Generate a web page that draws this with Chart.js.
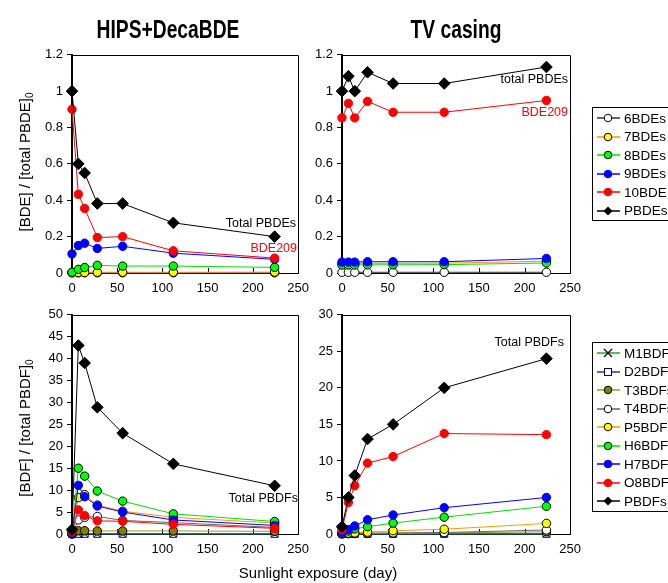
<!DOCTYPE html>
<html>
<head>
<meta charset="utf-8">
<script src="https://cdn.jsdelivr.net/npm/chart.js@4.4.1/dist/chart.umd.min.js"></script>
<style>
html,body{margin:0;padding:0;background:#fff;width:668px;height:583px;overflow:hidden}
body{position:relative;font-family:"Liberation Sans",Arial,sans-serif;color:#000}
canvas{position:absolute}
.title{position:absolute;top:13px;font-family:"Liberation Sans",Arial,sans-serif;font-weight:bold;font-size:26px;line-height:32px;white-space:nowrap;transform:translateX(-50%) scaleX(0.74)}
.ytitle{position:absolute;font-size:15px;white-space:nowrap;transform:translate(-50%,-50%) rotate(-90deg)}
.ytitle sub{font-size:10px;vertical-align:-3px}
.xtitle{position:absolute;font-size:15px;white-space:nowrap;transform:translateX(-50%)}
.note{position:absolute;font-size:12.5px;line-height:14px;white-space:nowrap}
.legend{position:absolute;border:1px solid #000;background:#fff;width:110px;box-sizing:border-box;padding-top:1px}
.legend .item{height:18.5px;display:flex;align-items:center;font-size:13.5px;white-space:nowrap}
.legend svg{margin-left:4px;margin-right:4px;flex:none}
</style>
</head>
<body>
<canvas id="cTL" width="317" height="265" style="left:0;top:43px"></canvas>
<canvas id="cTR" width="319" height="265" style="left:270px;top:43px"></canvas>
<canvas id="cBL" width="317" height="265" style="left:0;top:303px"></canvas>
<canvas id="cBR" width="319" height="265" style="left:270px;top:303px"></canvas>

<div class="title" style="left:168px">HIPS+DecaBDE</div>
<div class="title" style="left:456px">TV casing</div>
<div class="ytitle" style="left:25px;top:162px">[BDE] / [total PBDE]<sub>0</sub></div>
<div class="ytitle" style="left:25px;top:428px">[BDF] / [total PBDF]<sub>0</sub></div>
<div class="xtitle" style="left:318px;top:564px">Sunlight exposure (day)</div>

<div class="note" style="right:372px;top:216px">Total PBDEs</div>
<div class="note" style="right:371px;top:241px;color:#ff0000">BDE209</div>
<div class="note" style="right:100px;top:72px">total PBDEs</div>
<div class="note" style="right:100px;top:105px;color:#ff0000">BDE209</div>
<div class="note" style="right:370px;top:491px">Total PBDFs</div>
<div class="note" style="right:104px;top:335px">Total PBDFs</div>

<div id="legTop" class="legend" style="left:592px;top:107px"></div>
<div id="legBot" class="legend" style="left:592px;top:342px"></div>

<script>
// ---------- data ----------
const days = [0, 7, 14, 28, 56, 112, 224];

const bdeLabels = ['6BDEs', '7BDEs', '8BDEs', '9BDEs', '10BDE', 'PBDEs'];
const bdfLabels = ['M1BDFs', 'D2BDFs', 'T3BDFs', 'T4BDFs', 'P5BDFs', 'H6BDFs', 'H7BDFs', 'O8BDF', 'PBDFs'];

// HIPS+DecaBDE, PBDEs
const hips6BDE  = [0.001, 0.001, 0.001, 0.001, 0.001, 0.001, 0.001];
const hips7BDE  = [0.002, 0.003, 0.003, 0.004, 0.004, 0.004, 0.005];
const hips8BDE  = [0.004, 0.020, 0.030, 0.042, 0.038, 0.038, 0.031];
const hips9BDE  = [0.105, 0.151, 0.164, 0.135, 0.147, 0.109, 0.075];
const hips10BDE = [0.900, 0.433, 0.355, 0.195, 0.200, 0.122, 0.082];
const hipsPBDE  = [1.000, 0.600, 0.550, 0.382, 0.382, 0.276, 0.200];

// TV casing, PBDEs
const tv6BDE  = [0.004, 0.004, 0.004, 0.004, 0.004, 0.004, 0.004];
const tv7BDE  = [0.052, 0.052, 0.052, 0.053, 0.053, 0.054, 0.065];
const tv8BDE  = [0.044, 0.044, 0.044, 0.045, 0.045, 0.046, 0.055];
const tv9BDE  = [0.060, 0.060, 0.060, 0.062, 0.062, 0.062, 0.080];
const tv10BDE = [0.853, 0.933, 0.853, 0.944, 0.884, 0.884, 0.949];
const tvPBDE  = [1.000, 1.082, 1.000, 1.104, 1.042, 1.042, 1.133];

// HIPS+DecaBDE, PBDFs
const hipsM1 = [0.02, 0.02, 0.02, 0.02, 0.02, 0.02, 0.02];
const hipsD2 = [0.05, 0.05, 0.05, 0.05, 0.05, 0.05, 0.05];
const hipsT3 = [0.02, 0.75, 0.75, 0.70, 0.70, 0.70, 0.60];
const hipsT4 = [0.03, 3.2, 3.8, 4.0, 3.1, 2.6, 1.5];
const hipsP5 = [0.05, 8.3, 9.0, 6.6, 5.2, 3.8, 2.5];
const hipsH6 = [0.15, 15.0, 13.2, 9.8, 7.5, 4.6, 2.85];
const hipsH7 = [0.25, 11.1, 8.5, 6.4, 5.0, 3.2, 1.95];
const hipsO8 = [0.50, 5.5, 4.2, 3.0, 2.9, 2.2, 1.3];
const hipsPBDF = [1.0, 43.0, 39.0, 28.9, 23.0, 16.0, 11.0];

// TV casing, PBDFs
const tvM1 = [0.01, 0.01, 0.01, 0.01, 0.01, 0.01, 0.01];
const tvD2 = [0.03, 0.03, 0.03, 0.03, 0.03, 0.03, 0.03];
const tvT3 = [0.02, 0.05, 0.05, 0.08, 0.10, 0.15, 0.30];
const tvT4 = [0.03, 0.08, 0.10, 0.12, 0.15, 0.20, 0.55];
const tvP5 = [0.05, 0.12, 0.15, 0.25, 0.45, 0.65, 1.45];
const tvH6 = [0.15, 0.40, 0.70, 1.00, 1.50, 2.30, 3.80];
const tvH7 = [0.25, 0.60, 1.10, 1.95, 2.60, 3.60, 5.00];
const tvO8 = [0.60, 4.30, 6.60, 9.70, 10.60, 13.75, 13.60];
const tvPBDF = [1.0, 5.0, 8.0, 13.0, 15.0, 20.0, 24.0];

// ---------- styles ----------
const sWhite  = {line:'#333333', bg:'#ffffff', border:'#000000', shape:'circle'};
const sGray   = {line:'#666666', bg:'#ffffff', border:'#000000', shape:'circle'};
const sYellow = {line:'#ff9900', bg:'#ffff00', border:'#000000', shape:'circle'};
const sGreen  = {line:'#00dd00', bg:'#00ff00', border:'#000000', shape:'circle'};
const sBlue   = {line:'#0000ff', bg:'#0000ff', border:'#0000ff', shape:'circle'};
const sRed    = {line:'#ff0000', bg:'#ff0000', border:'#ff0000', shape:'circle'};
const sBlack  = {line:'#000000', bg:'#000000', border:'#000000', shape:'rectRot'};
const sCross  = {line:'#339933', bg:'rgba(0,0,0,0)', border:'#000033', shape:'crossRot'};
const sSquare = {line:'#333399', bg:'rgba(0,0,0,0)', border:'#000080', shape:'rect'};
const sOlive  = {line:'#999933', bg:'#808000', border:'#000000', shape:'circle'};

const bdeStyles = [sWhite, sYellow, sGreen, sBlue, sRed, sBlack];
const bdfStyles = [sCross, sSquare, sOlive, sGray, sYellow, sGreen, sBlue, sRed, sBlack];

Chart.defaults.font.family = '"Liberation Sans", Arial, sans-serif';
Chart.defaults.font.size = 13;
Chart.defaults.color = '#000';

function mkDataset(label, vals, st, idx, n) {
  let radius = 4.2;
  if (st.shape === 'rectRot') radius = 5.8;
  if (st.shape === 'rect') radius = 5;
  if (st.shape === 'crossRot') radius = 4.5;
  return {
    label: label,
    data: days.map((d, i) => ({x: d, y: vals[i]})),
    borderColor: st.line,
    borderWidth: 1,
    pointStyle: st.shape,
    pointRadius: radius,
    pointBackgroundColor: st.bg,
    pointBorderColor: st.border,
    pointBorderWidth: 1,
    tension: 0,
    fill: false,
    clip: false,
    order: n - idx
  };
}

const framePlugin = {
  id: 'frame',
  beforeDatasetsDraw(chart) {
    const ctx = chart.ctx, a = chart.chartArea, x = chart.scales.x;
    ctx.save();
    ctx.strokeStyle = '#000';
    ctx.lineWidth = 1;
    ctx.beginPath();
    ctx.moveTo(a.left, Math.round(a.top) + 0.5);
    ctx.lineTo(Math.round(a.right) + 0.5, Math.round(a.top) + 0.5);
    ctx.lineTo(Math.round(a.right) + 0.5, a.bottom);
    ctx.stroke();
    x.ticks.forEach(t => {
      const px = Math.round(x.getPixelForValue(t.value)) + 0.5;
      ctx.beginPath();
      ctx.moveTo(px, a.bottom);
      ctx.lineTo(px, a.bottom - 5);
      ctx.stroke();
    });
    ctx.restore();
  }
};

const fmt = v => String(+Number(v).toFixed(2));

function makeChart(id, labels, series, styles, ymax, ystep, xAxisH) {
  const n = series.length;
  const datasets = series.map((v, i) => mkDataset(labels[i], v, styles[i], i, n));
  return new Chart(document.getElementById(id), {
    type: 'line',
    data: {datasets: datasets},
    plugins: [framePlugin],
    options: {
      responsive: false,
      animation: false,
      events: [],
      layout: {padding: {left: 0, right: 0, top: 10, bottom: 13}},
      plugins: {legend: {display: false}, tooltip: {enabled: false}},
      scales: {
        x: {
          type: 'linear', min: 0, max: 250,
          ticks: {stepSize: 50, padding: 8, color: '#000', font: {size: 13}, maxRotation: 0},
          grid: {display: false, drawTicks: false},
          border: {display: true, color: '#000', width: 1},
          afterFit: s => { s.height = xAxisH; }
        },
        y: {
          type: 'linear', min: 0, max: ymax,
          ticks: {stepSize: ystep, padding: 4, color: '#000', font: {size: 13}, callback: fmt},
          grid: {display: true, drawOnChartArea: false, drawTicks: true, tickLength: 5, color: '#000', lineWidth: 1},
          border: {display: true, color: '#000', width: 2},
          afterFit: s => { s.width = 72; }
        }
      }
    }
  });
}

makeChart('cTL', bdeLabels, [hips6BDE, hips7BDE, hips8BDE, hips9BDE, hips10BDE, hipsPBDE], bdeStyles, 1.2, 0.2, 22);
makeChart('cTR', bdeLabels, [tv6BDE, tv7BDE, tv8BDE, tv9BDE, tv10BDE, tvPBDE], bdeStyles, 1.2, 0.2, 22);
makeChart('cBL', bdfLabels, [hipsM1, hipsD2, hipsT3, hipsT4, hipsP5, hipsH6, hipsH7, hipsO8, hipsPBDF], bdfStyles, 50, 5, 21);
makeChart('cBR', bdfLabels, [tvM1, tvD2, tvT3, tvT4, tvP5, tvH6, tvH7, tvO8, tvPBDF], bdfStyles, 30, 5, 21);

// ---------- legends ----------
function markerSvg(st) {
  const cx = 11, cy = 9;
  let m = '';
  if (st.shape === 'circle') m = `<circle cx="${cx}" cy="${cy}" r="3.8" fill="${st.bg}" stroke="${st.border}" stroke-width="1"/>`;
  else if (st.shape === 'rectRot') m = `<polygon points="${cx},${cy-4.5} ${cx+4.5},${cy} ${cx},${cy+4.5} ${cx-4.5},${cy}" fill="${st.bg}"/>`;
  else if (st.shape === 'rect') m = `<rect x="${cx-3.5}" y="${cy-3.5}" width="7" height="7" fill="#fff" stroke="${st.border}" stroke-width="1"/>`;
  else if (st.shape === 'crossRot') m = `<path d="M${cx-4},${cy-4}L${cx+4},${cy+4}M${cx+4},${cy-4}L${cx-4},${cy+4}" stroke="#000" stroke-width="1.2"/>`;
  return `<svg width="23" height="18"><line x1="0" y1="${cy}" x2="23" y2="${cy}" stroke="${st.line}" stroke-width="1.5"/>${m}</svg>`;
}
function buildLegend(elId, labels, styles) {
  const el = document.getElementById(elId);
  labels.forEach((lab, i) => {
    const row = document.createElement('div');
    row.className = 'item';
    row.innerHTML = markerSvg(styles[i]) + '<span>' + lab + '</span>';
    el.appendChild(row);
  });
}
buildLegend('legTop', bdeLabels, bdeStyles);
buildLegend('legBot', bdfLabels, bdfStyles);
</script>
</body>
</html>
